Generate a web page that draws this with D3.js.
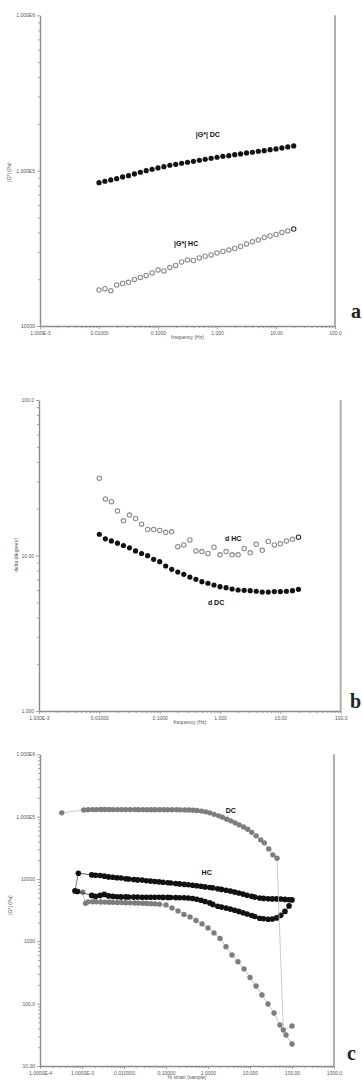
<!DOCTYPE html>
<html>
<head>
<meta charset="utf-8">
<script src="https://cdn.jsdelivr.net/npm/d3@7"></script>
<style>
  body { margin: 0; background: #fff; }
  svg { display: block; }
  .tick text { font-family: "Liberation Sans", Arial, sans-serif; fill: #555; }
</style>
</head>
<body>
<svg id="chart" width="362" height="1081"></svg>
<script>
// ---- panel a / b : frequency sweep ----
const freq = [0.01, 0.01259, 0.01585, 0.01995, 0.02512, 0.03162, 0.03981, 0.05012, 0.0631, 0.07943,
  0.1, 0.1259, 0.1585, 0.1995, 0.2512, 0.3162, 0.3981, 0.5012, 0.631, 0.7943,
  1, 1.259, 1.585, 1.995, 2.512, 3.162, 3.981, 5.012, 6.31, 7.943, 10, 12.59, 15.85, 19.95];

const gStarDC = [83700, 85450, 87100, 88800, 91100, 92850, 95200, 97650, 100000, 102100,
  104100, 106100, 108300, 109900, 111600, 113300, 114900, 116700, 118400, 120200,
  122000, 123800, 124900, 126800, 128100, 130000, 131400, 133300, 134500, 136500,
  137900, 140000, 142100, 144200];
const gStarHC = [17050, 17390, 16880, 18370, 18780, 19110, 19930, 20530, 21150, 21950,
  22940, 22610, 23810, 24530, 25830, 26610, 26410, 27410, 28110, 28660,
  29510, 30180, 30860, 31550, 32500, 33730, 34900, 35790, 37140, 37970,
  38810, 40000, 40900, 42120];

const deltaHC = [31.4, 23.1, 22.2, 19.3, 16.7, 18.2, 17.3, 15.9, 14.7, 14.7,
  14.5, 14.1, 14.2, 11.4, 11.7, 12.6, 10.7, 10.6, 10.3, 11.3,
  10.1, 10.6, 10.1, 10.1, 11.1, 10.4, 11.8, 10.8, 12.3, 11.7,
  11.9, 12.4, 12.7, 13.1];
const deltaDC = [13.7, 12.8, 12.4, 12.0, 11.6, 11.2, 10.7, 10.3, 9.97, 9.45,
  9.12, 8.56, 8.15, 7.83, 7.57, 7.27, 7.03, 6.79, 6.63, 6.46,
  6.30, 6.21, 6.09, 6.00, 5.97, 5.94, 5.89, 5.82, 5.82, 5.86,
  5.86, 5.89, 5.94, 6.06];

// ---- panel c : strain sweep ----
const strainDCupper = [0.00033, 0.0011, 0.0014, 0.0018, 0.0022, 0.0028, 0.0035, 0.0044, 0.0055, 0.007,
  0.0088, 0.011, 0.014, 0.018, 0.022, 0.028, 0.035, 0.044, 0.055, 0.07,
  0.088, 0.11, 0.14, 0.18, 0.22, 0.28, 0.35, 0.44, 0.55, 0.7,
  0.88, 1.1, 1.4, 1.8, 2.2, 2.8, 3.5, 4.4, 5.5, 7,
  8.8, 11, 14, 18, 22, 28, 35, 44, 62, 100];
const gDCupper = [115000, 128000, 129200, 129600, 129800, 130000, 130000, 129900, 129800, 129800,
  129700, 129700, 129600, 129600, 129500, 129400, 129400, 129300, 129200, 129100,
  129000, 128900, 128800, 128700, 128500, 128300, 128000, 127200, 125300, 122600,
  119400, 115000, 108900, 102900, 98200, 91200, 85600, 79500, 73900, 68500,
  62600, 56000, 49200, 42400, 38000, 30400, 24400, 21500, 37.8, 43.9];

const strainDClower = [0.00104, 0.00122, 0.0014, 0.0018, 0.0022, 0.0028, 0.0035, 0.0044, 0.0055, 0.007,
  0.0088, 0.011, 0.014, 0.018, 0.022, 0.028, 0.035, 0.044, 0.055, 0.07,
  0.1, 0.139, 0.193, 0.268, 0.373, 0.518, 0.72, 1.0, 1.39, 1.93,
  2.68, 3.73, 5.18, 7.2, 10, 13.9, 19.3, 26.8, 37.3, 51.8, 72, 100];
const gDClower = [6138, 4088, 4300, 4320, 4300, 4280, 4260, 4240, 4220, 4200,
  4180, 4160, 4140, 4120, 4100, 4080, 4050, 4020, 3990, 3950,
  3840, 3437, 3076, 2702, 2465, 2165, 1902, 1641, 1364, 1113,
  822, 605, 470, 361, 263, 192, 138, 98.9, 70.9, 45.5, 31.4, 22.5];

const strainHCupper = [0.00082, 0.0017, 0.0021, 0.0027, 0.0034, 0.0043, 0.0054, 0.0068, 0.0085, 0.011,
  0.013, 0.017, 0.021, 0.027, 0.034, 0.043, 0.054, 0.068, 0.085, 0.11,
  0.13, 0.17, 0.21, 0.27, 0.34, 0.43, 0.54, 0.68, 0.85, 1.1,
  1.3, 1.7, 2.1, 2.7, 3.4, 4.3, 5.4, 6.8, 8.5, 11,
  13, 17, 21, 27, 34, 43, 54, 68, 85, 100];
const gHCupper = [12390, 11630, 11500, 11370, 11100, 10800, 10650, 10490, 10340, 10100,
  10000, 9820, 9670, 9590, 9390, 9250, 9120, 8990, 8850, 8720,
  8630, 8480, 8345, 8190, 8070, 7930, 7780, 7640, 7470, 7300,
  7200, 6990, 6810, 6590, 6390, 6160, 5960, 5720, 5470, 5260,
  5120, 4940, 4880, 4810, 4790, 4790, 4780, 4700, 4650, 4620];

const strainHClower = [0.00068, 0.00078, 0.0017, 0.0021, 0.0027, 0.0034, 0.0043, 0.0054, 0.0068, 0.0085,
  0.011, 0.013, 0.017, 0.021, 0.027, 0.034, 0.043, 0.054, 0.068, 0.085,
  0.11, 0.13, 0.17, 0.21, 0.27, 0.34, 0.43, 0.54, 0.68, 0.85,
  1.1, 1.3, 1.7, 2.1, 2.7, 3.4, 4.3, 5.4, 6.8, 8.5,
  11, 13, 17, 21, 27, 34, 43, 54, 68, 85];
const gHClower = [6440, 6300, 5455, 5257, 5455, 5660, 5355, 5257, 5200, 5160,
  5160, 5140, 5120, 5120, 5100, 5100, 5100, 5085, 5085, 5065,
  5065, 5050, 5030, 5010, 4990, 4950, 4865, 4720, 4570, 4350,
  4134, 3910, 3660, 3540, 3410, 3290, 3150, 3020, 2880, 2750,
  2590, 2500, 2345, 2300, 2263, 2285, 2375, 2610, 3020, 3700];

// ---- ticks ----
const freqTicks = [0.001, 0.01, 0.1, 1, 10, 100];
const freqTickLabels = ['1.000E-3', '0.01000', '0.1000', '1.000', '10.00', '100.0'];
const strainTicks = [0.0001, 0.001, 0.01, 0.1, 1, 10, 100, 1000];
const strainTickLabels = ['1.0000E-4', '1.0000E-3', '0.010000', '0.10000', '1.0000', '10.000', '100.00', '1000.0'];
const gTicksA = [10000, 100000, 1000000];
const gTickLabelsA = ['10000', '1.000E5', '1.000E6'];
const deltaTicks = [1, 10, 100];
const deltaTickLabels = ['1.000', '10.00', '100.0'];
const gTicksC = [10, 100, 1000, 10000, 100000, 1000000];
const gTickLabelsC = ['10.00', '100.0', '1000', '10000', '1.000E5', '1.000E6'];

const FONT = '"Liberation Sans", Arial, sans-serif';
const svg = d3.select('#chart');

const isMajor = v => Math.abs(Math.log10(v) - Math.round(Math.log10(v))) < 1e-9;

function drawPanel(p) {
  const x = d3.scaleLog().domain(p.xDomain).range([p.left, p.right]);
  const y = d3.scaleLog().domain(p.yDomain).range([p.bottom, p.top]);
  const g = svg.append('g');

  // minor ticks
  g.append('g').attr('transform', `translate(${p.left},0)`)
    .call(d3.axisLeft(y).tickValues(y.ticks().filter(v => !isMajor(v))).tickSize(2).tickFormat(''))
    .call(a => a.select('.domain').remove());
  g.append('g').attr('transform', `translate(0,${p.bottom})`)
    .call(d3.axisBottom(x).tickValues(x.ticks().filter(v => !isMajor(v))).tickSize(2).tickFormat(''))
    .call(a => a.select('.domain').remove());

  // major ticks + labels
  const yAxis = g.append('g').attr('transform', `translate(${p.left},0)`)
    .call(d3.axisLeft(y).tickValues(p.yTicks).tickSize(3).tickSizeOuter(0).tickPadding(2)
      .tickFormat((d, i) => p.yLabels[i]));
  const xAxis = g.append('g').attr('transform', `translate(0,${p.bottom})`)
    .call(d3.axisBottom(x).tickValues(p.xTicks).tickSize(3).tickSizeOuter(0).tickPadding(2)
      .tickFormat((d, i) => p.xLabels[i]));
  [yAxis, xAxis].forEach(a => {
    a.selectAll('text').attr('font-size', 5);
  });
  g.selectAll('.domain').attr('stroke', '#8c8c8c').attr('stroke-width', 1.4);
  g.selectAll('.tick line').attr('stroke', '#8c8c8c').attr('stroke-width', 0.8);

  // right frame line
  g.append('line')
    .attr('x1', p.right).attr('x2', p.right)
    .attr('y1', p.top).attr('y2', p.bottom)
    .attr('stroke', '#b0b0b0').attr('stroke-width', 2);

  // axis titles
  g.append('text')
    .attr('x', (p.left + p.right) / 2).attr('y', p.bottom + 13)
    .attr('text-anchor', 'middle').attr('font-family', FONT).attr('font-size', 5).attr('fill', '#555')
    .text(p.xTitle);
  g.append('text')
    .attr('transform', `translate(${p.yTitleX},${p.yTitleY}) rotate(-90)`)
    .attr('text-anchor', 'middle').attr('font-family', FONT).attr('font-size', 5).attr('fill', '#555')
    .text(p.yTitle);

  // series
  p.series.forEach(s => {
    const pts = s.xs.map((v, i) => [v, s.ys[i]]);
    if (s.line) {
      g.append('path')
        .datum(pts)
        .attr('fill', 'none').attr('stroke', s.line).attr('stroke-width', 0.8)
        .attr('d', d3.line().x(d => x(d[0])).y(d => y(d[1])));
    }
    g.append('g').selectAll('circle')
      .data(pts)
      .join('circle')
      .attr('cx', d => x(d[0]))
      .attr('cy', d => y(d[1]))
      .attr('r', s.r)
      .attr('fill', s.fill)
      .attr('stroke', (d, i) => s.stroke ? (s.darkLast && i === pts.length - 1 ? '#333' : s.stroke) : 'none')
      .attr('stroke-width', s.strokeWidth || 0);
  });

  if (p.extra) p.extra(g, x, y);

  // series labels
  p.labels.forEach(l => {
    g.append('text')
      .attr('x', x(l.at[0])).attr('y', y(l.at[1]))
      .attr('text-anchor', 'middle').attr('dominant-baseline', 'central')
      .attr('font-family', FONT).attr('font-size', 7).attr('font-weight', 'bold').attr('fill', '#111')
      .text(l.text);
  });

  // panel letter
  svg.append('text')
    .attr('x', p.letterX).attr('y', p.letterY)
    .attr('font-family', '"Liberation Serif", "DejaVu Serif", serif')
    .attr('font-size', 20).attr('font-weight', 'bold').attr('fill', '#222')
    .text(p.letter);
}

// a) |G*| vs frequency
drawPanel({
  left: 40, right: 335, top: 15.3, bottom: 326,
  xDomain: [0.001, 100], yDomain: [10000, 1000000],
  xTicks: freqTicks, xLabels: freqTickLabels,
  yTicks: gTicksA, yLabels: gTickLabelsA,
  xTitle: 'frequency (Hz)', yTitle: '|G*| (Pa)', yTitleX: 11, yTitleY: 172,
  series: [
    { xs: freq, ys: gStarDC, r: 2.6, fill: '#111' },
    { xs: freq, ys: gStarHC, r: 2.2, fill: '#fff', stroke: '#8a8a8a', strokeWidth: 1.1, darkLast: true }
  ],
  labels: [
    { text: '|G*| DC', at: [0.70, 172000] },
    { text: '|G*| HC', at: [0.30, 34200] }
  ],
  letter: 'a', letterX: 351, letterY: 318
});

// b) delta vs frequency
drawPanel({
  left: 39, right: 340.7, top: 400, bottom: 711,
  xDomain: [0.001, 100], yDomain: [1, 100],
  xTicks: freqTicks, xLabels: freqTickLabels,
  yTicks: deltaTicks, yLabels: deltaTickLabels,
  xTitle: 'frequency (Hz)', yTitle: 'delta (degrees)', yTitleX: 18, yTitleY: 555,
  series: [
    { xs: freq, ys: deltaDC, r: 2.6, fill: '#111' },
    { xs: freq, ys: deltaHC, r: 2.2, fill: '#fff', stroke: '#8a8a8a', strokeWidth: 1.1, darkLast: true }
  ],
  labels: [
    { text: 'd HC', at: [1.65, 12.8] },
    { text: 'd DC', at: [0.86, 5.02] }
  ],
  letter: 'b', letterX: 350, letterY: 708
});

// c) |G*| vs strain
drawPanel({
  left: 40, right: 334, top: 754.3, bottom: 1066,
  xDomain: [0.0001, 1000], yDomain: [10, 1000000],
  xTicks: strainTicks, xLabels: strainTickLabels,
  yTicks: gTicksC, yLabels: gTickLabelsC,
  xTitle: '% strain (sample)', yTitle: '|G*| (Pa)', yTitleX: 12, yTitleY: 905,
  series: [
    { xs: strainDClower, ys: gDClower, r: 2.7, fill: '#7d7d7d', line: '#b5b5b5' },
    { xs: strainHClower, ys: gHClower, r: 2.8, fill: '#111', line: '#333' },
    { xs: strainHCupper, ys: gHCupper, r: 2.8, fill: '#111', line: '#333' },
    { xs: strainDCupper, ys: gDCupper, r: 2.7, fill: '#7d7d7d', line: '#bdbdbd' }
  ],
  extra: (g, x, y) => {
    // thin connector between the first HC points
    g.insert('line', ':first-child')
      .attr('x1', x(strainHCupper[0])).attr('y1', y(gHCupper[0]))
      .attr('x2', x(strainHClower[0])).attr('y2', y(gHClower[0]))
      .attr('stroke', '#555').attr('stroke-width', 0.8);
  },
  labels: [
    { text: 'DC', at: [3.5, 125000] },
    { text: 'HC', at: [0.93, 12900] }
  ],
  letter: 'c', letterX: 347, letterY: 1060
});
</script>
</body>
</html>
